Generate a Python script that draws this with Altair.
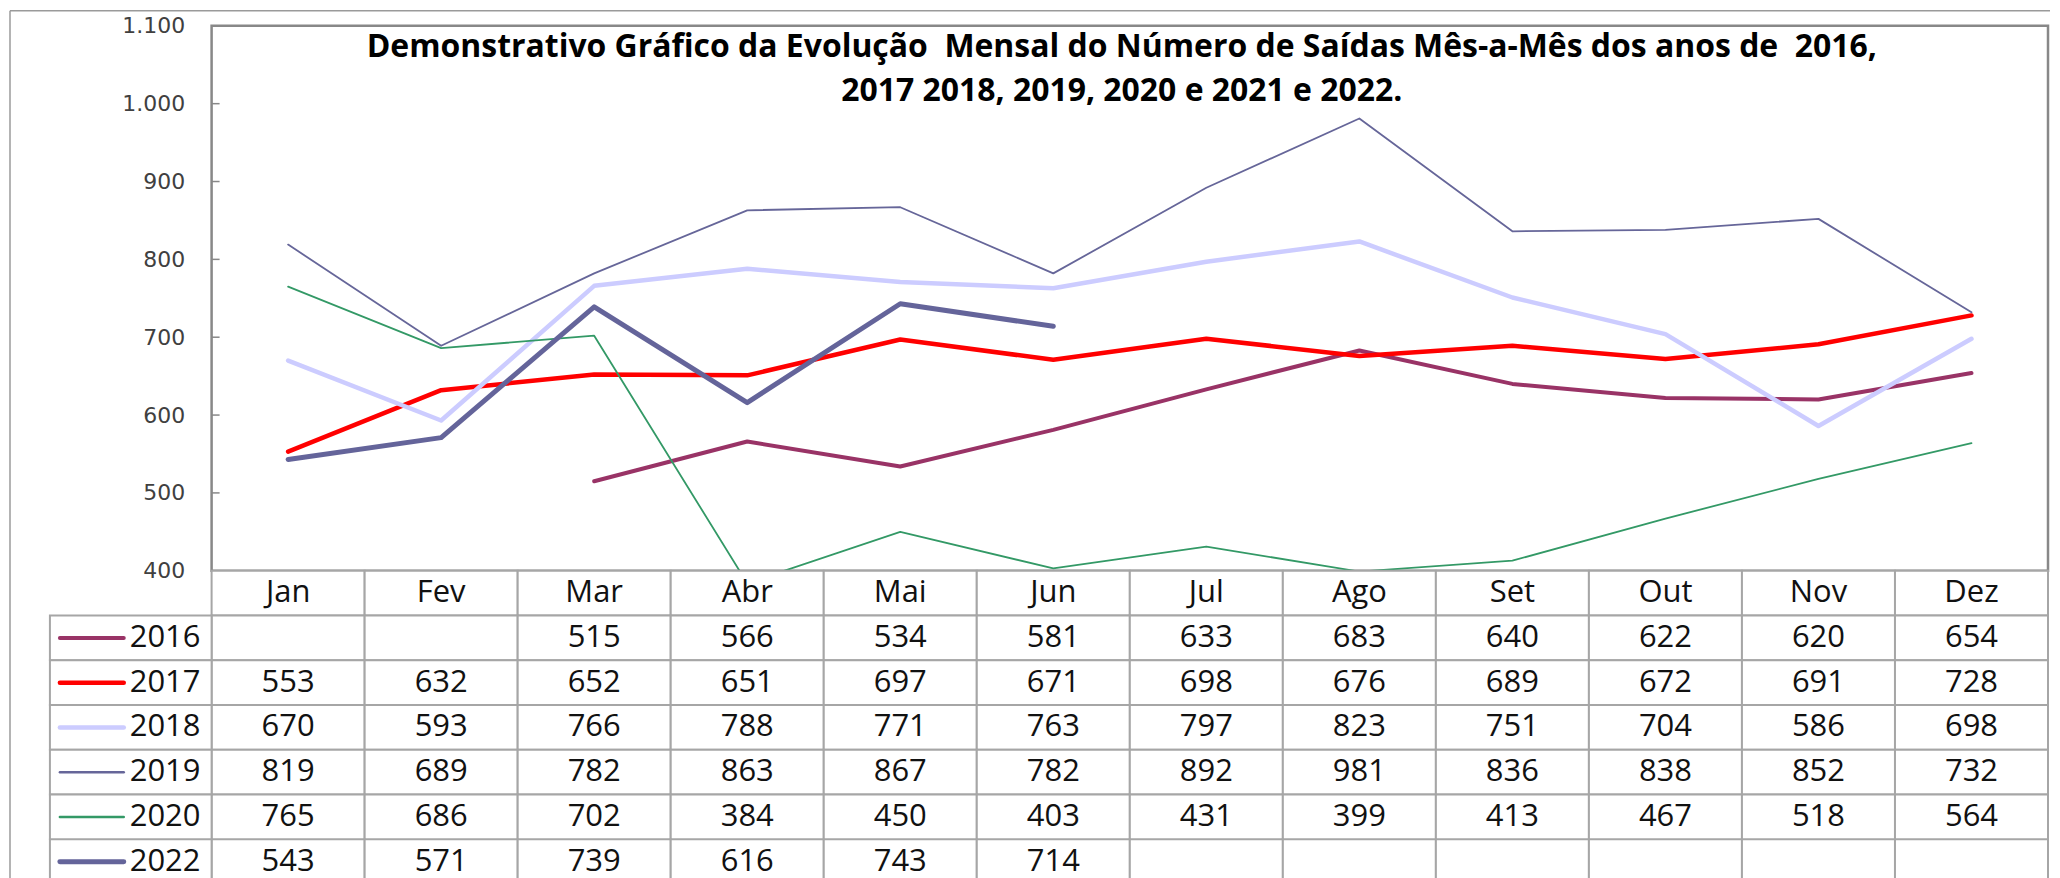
import altair as alt
import pandas as pd

months = ["Jan", "Fev", "Mar", "Abr", "Mai", "Jun", "Jul", "Ago", "Set", "Out", "Nov", "Dez"]
years = ["2016", "2017", "2018", "2019", "2020", "2022"]

v2016 = [None, None, 515, 566, 534, 581, 633, 683, 640, 622, 620, 654]
v2017 = [553, 632, 652, 651, 697, 671, 698, 676, 689, 672, 691, 728]
v2018 = [670, 593, 766, 788, 771, 763, 797, 823, 751, 704, 586, 698]
v2019 = [819, 689, 782, 863, 867, 782, 892, 981, 836, 838, 852, 732]
v2020 = [765, 686, 702, 384, 450, 403, 431, 399, 413, 467, 518, 564]
v2022 = [543, 571, 739, 616, 743, 714, None, None, None, None, None, None]

y_ticks = [400, 500, 600, 700, 800, 900, 1000, 1100]
inner_ticks = [500, 600, 700, 800, 900, 1000]

colors = ["#993366", "#FF0000", "#CCCCFF", "#666699", "#339966", "#64649A"]
widths = [4, 4.5, 4.5, 1.8, 1.8, 5]

title_l1 = "Demonstrativo Gráfico da Evolução\u00a0 Mensal do Número de Saídas Mês-a-Mês dos anos de\u00a0 2016,"
title_l2 = "2017 2018, 2019, 2020 e 2021 e 2022."

series = dict(zip(years, [v2016, v2017, v2018, v2019, v2020, v2022]))

rows = []
for y in years:
    for m, v in zip(months, series[y]):
        rows.append({"year": y, "month": m, "value": v})
df = pd.DataFrame(rows)

PW, PH = 1840, 546
FONT = "Open Sans"

xs_point = alt.Scale(type="point", domain=months, padding=0.5)
ys = alt.Scale(domain=[400, 1100], nice=False, zero=False)
yaxis = alt.Axis(values=y_ticks, title=None, grid=False, domain=False, ticks=False,
                 labelPadding=27, labelFontSize=22, labelFont="DejaVu Sans",
                 labelColor="#404040",
                 labelExpr="replace(format(datum.value, ','), ',', '.')")

layers = []
for y, c, w in zip(years, colors, widths):
    d = df[(df.year == y) & df.value.notna()]
    layers.append(
        alt.Chart(d).mark_line(clip=True, color=c, strokeWidth=w, strokeJoin="round", strokeCap="round").encode(
            x=alt.X("month:N", sort=months, scale=xs_point, axis=None),
            y=alt.Y("value:Q", scale=ys, axis=yaxis),
        )
    )

ticks = alt.Chart(pd.DataFrame({"value": inner_ticks})).mark_rule(color="#888888", strokeWidth=1.5).encode(
    y=alt.Y("value:Q", scale=ys, axis=yaxis),
    x=alt.value(0), x2=alt.value(8),
)

title_mark = alt.Chart(pd.DataFrame({"a": [0]})).mark_text(
    text=[title_l1, title_l2], lineHeight=44,
    font=FONT, fontWeight="bold", fontSize=32, align="center", baseline="alphabetic", color="#000000"
).encode(x=alt.value(912), y=alt.value(31))

frame_top = alt.Chart(pd.DataFrame({"a": [0]})).mark_rule(color="#9a9a9a", strokeWidth=1.5).encode(
    x=alt.value(-202), x2=alt.value(1842), y=alt.value(-15))
frame_left = alt.Chart(pd.DataFrame({"a": [0]})).mark_rule(color="#9a9a9a", strokeWidth=1.5).encode(
    x=alt.value(-202), y=alt.value(-15), y2=alt.value(PH + 310))

top = alt.layer(frame_top, frame_left, *layers, ticks, title_mark).properties(
    width=PW, height=PH, view={"stroke": "#888888", "strokeWidth": 2.5}
)

# ---- table ----
row_domain = ["hdr"] + years
cells = []
for m in months:
    cells.append({"row": "hdr", "month": m, "label": m})
for y in years:
    for m, v in zip(months, series[y]):
        cells.append({"row": y, "month": m, "label": "" if v is None else str(v)})
cdf = pd.DataFrame(cells)
ldf = pd.DataFrame({"row": years, "color": colors, "width": widths})

xb = alt.Scale(type="band", domain=months, paddingInner=0, paddingOuter=0)
yb = alt.Scale(type="band", domain=row_domain, paddingInner=0, paddingOuter=0)
GRID = "#a6a6a6"

cell_rects = alt.Chart(cdf).mark_rect(fill="white", stroke=GRID, strokeWidth=2).encode(
    x=alt.X("month:N", scale=xb, axis=None),
    y=alt.Y("row:N", scale=yb, axis=None),
)
legend_rects = alt.Chart(ldf).mark_rect(fill="white", stroke=GRID, strokeWidth=2).encode(
    x=alt.value(-162), x2=alt.value(0),
    y=alt.Y("row:N", scale=yb, axis=None),
)
key_layers = []
for y, c, w in zip(years, colors, widths):
    key_layers.append(
        alt.Chart(ldf[ldf.row == y]).mark_rule(color=c, strokeWidth=max(w, 3) if w > 2 else 2.5, strokeCap="round").encode(
            x=alt.value(-152), x2=alt.value(-88),
            y=alt.Y("row:N", scale=yb, axis=None, bandPosition=0.5),
        )
    )
legend_text = alt.Chart(ldf).mark_text(font=FONT, fontSize=31, align="left", baseline="middle", color="#111111").encode(
    x=alt.value(-82),
    y=alt.Y("row:N", scale=yb, axis=None, bandPosition=0.5),
    text="row:N",
)
cell_text = alt.Chart(cdf).mark_text(font=FONT, fontSize=31, align="center", baseline="middle", color="#111111").encode(
    x=alt.X("month:N", scale=xb, axis=None, bandPosition=0.5),
    y=alt.Y("row:N", scale=yb, axis=None, bandPosition=0.5),
    text="label:N",
)

bottom = alt.layer(cell_rects, legend_rects, *key_layers, legend_text, cell_text).properties(
    width=PW, height=314
)

chart = alt.vconcat(top, bottom, spacing=0, bounds="flush").properties(padding=0).configure_view(stroke=None)

chart.save("out.html", embed_options={"renderer": "svg", "actions": False})
